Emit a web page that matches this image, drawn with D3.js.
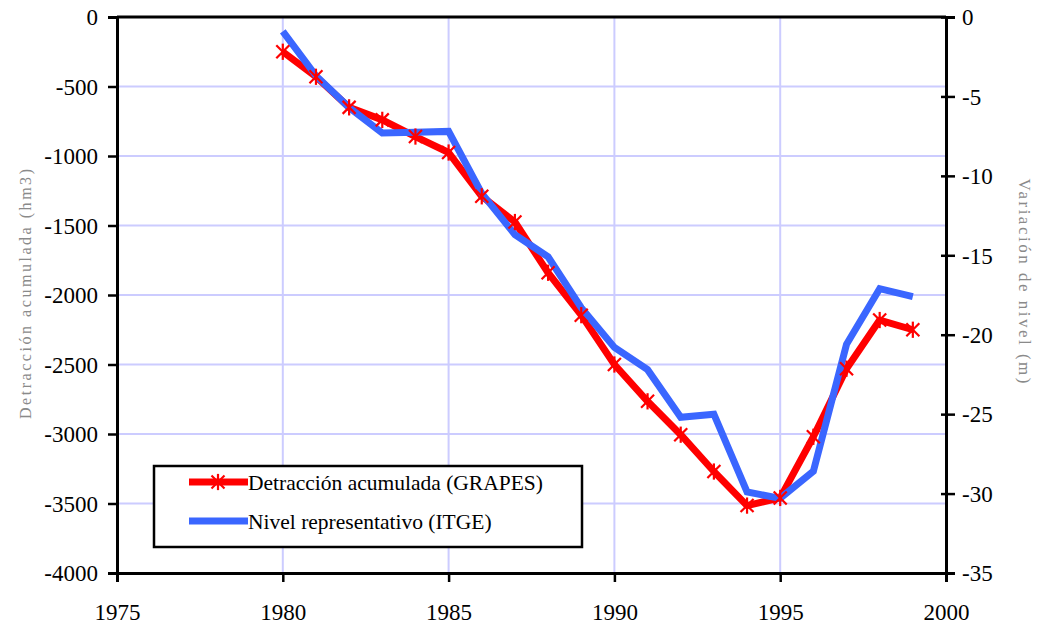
<!DOCTYPE html>
<html>
<head>
<meta charset="utf-8">
<script src="https://cdn.jsdelivr.net/npm/d3@7"></script>
<style>
  body { margin: 0; background: #fff; }
  svg { display: block; }
</style>
</head>
<body>
<script>
// years and the two series
var years = [1980, 1981, 1982, 1983, 1984, 1985, 1986, 1987, 1988, 1989,
             1990, 1991, 1992, 1993, 1994, 1995, 1996, 1997, 1998, 1999];
// detraccion acumulada (hm3) - left axis
var detraccion = [-250, -430, -650, -740, -860, -975, -1290, -1475, -1840, -2145,
                  -2500, -2765, -3005, -3270, -3515, -3460, -3020, -2530, -2180, -2250];
// nivel representativo (m) - right axis
var nivel = [-0.9, -3.7, -5.7, -7.3, -7.25, -7.2, -11.1, -13.7, -15.1, -18.3,
             -20.8, -22.2, -25.2, -25.0, -29.9, -30.3, -28.6, -20.6, -17.1, -17.6];

var xTicks = [1975, 1980, 1985, 1990, 1995, 2000];
var yLeftTicks = [0, -500, -1000, -1500, -2000, -2500, -3000, -3500, -4000];
var yRightTicks = [0, -5, -10, -15, -20, -25, -30, -35];
var legendLabels = ["Detracción acumulada (GRAPES)", "Nivel representativo (ITGE)"];

var serif = "Liberation Serif, Times New Roman, serif";

var W = 1042, H = 628;
var margin = {top: 17, right: 96, bottom: 55, left: 117},
    width = W - margin.left - margin.right,
    height = H - margin.top - margin.bottom;

var svg = d3.select("body").append("svg")
    .attr("width", W)
    .attr("height", H)
    .attr("font-family", serif);

var g = svg.append("g")
    .attr("transform", "translate(" + margin.left + "," + margin.top + ")");

var x = d3.scaleLinear().domain([1975, 2000]).range([0, width]);
var yL = d3.scaleLinear().domain([-4000, 0]).range([height, 0]);
var yR = d3.scaleLinear().domain([-35, 0]).range([height, 0]);

// grid
g.append("g").selectAll("line")
    .data(yLeftTicks.filter(function(d) { return d > -4000 && d < 0; }))
    .enter().append("line")
    .attr("x1", 0).attr("x2", width)
    .attr("y1", function(d) { return yL(d); })
    .attr("y2", function(d) { return yL(d); })
    .attr("stroke", "#ccccff").attr("stroke-width", 2);
g.append("g").selectAll("line")
    .data(xTicks.filter(function(d) { return d > 1975 && d < 2000; }))
    .enter().append("line")
    .attr("y1", 0).attr("y2", height)
    .attr("x1", function(d) { return x(d); })
    .attr("x2", function(d) { return x(d); })
    .attr("stroke", "#ccccff").attr("stroke-width", 2);

// top border
g.append("line")
    .attr("x1", 0).attr("x2", width).attr("y1", 0).attr("y2", 0)
    .attr("stroke", "#000").attr("stroke-width", 3);

// axes (hyphen minus like the original)
var fmt = function(d) { return String(d); };
var axL = g.append("g")
    .call(d3.axisLeft(yL).tickValues(yLeftTicks).tickSize(9).tickPadding(10).tickFormat(fmt));
var axB = g.append("g")
    .attr("transform", "translate(0," + height + ")")
    .call(d3.axisBottom(x).tickValues(xTicks).tickSize(9).tickPadding(22).tickFormat(fmt));
var axR = g.append("g")
    .attr("transform", "translate(" + width + ",0)")
    .call(d3.axisRight(yR).tickValues(yRightTicks).tickSize(9).tickPadding(7).tickFormat(fmt));
axR.selectAll(".tick line").attr("x1", -5);

[axL, axB, axR].forEach(function(a) {
    a.attr("font-family", serif).attr("font-size", 23);
    a.select(".domain").attr("stroke", "#000").attr("stroke-width", 3);
    a.selectAll(".tick line").attr("stroke", "#000").attr("stroke-width", 2.5);
    a.selectAll(".tick text").attr("fill", "#000");
});
axL.selectAll(".tick text").attr("dy", "0.34em");
axR.selectAll(".tick text").attr("dy", "0.34em");

// lines
var redLine = d3.line()
    .x(function(d, i) { return x(years[i]); })
    .y(function(d) { return yL(d); });
var blueLine = d3.line()
    .x(function(d, i) { return x(years[i]); })
    .y(function(d) { return yR(d); });

g.append("path")
    .datum(detraccion)
    .attr("fill", "none")
    .attr("stroke", "#ff0000")
    .attr("stroke-width", 7)
    .attr("stroke-linejoin", "round")
    .attr("d", redLine);

g.append("path")
    .datum(nivel)
    .attr("fill", "none")
    .attr("stroke", "#3a66ff")
    .attr("stroke-width", 7)
    .attr("d", blueLine);

// asterisk markers
function asterisk(sel, s) {
    sel.append("line").attr("x1", -s).attr("x2", s).attr("y1", -s).attr("y2", s);
    sel.append("line").attr("x1", -s).attr("x2", s).attr("y1", s).attr("y2", -s);
    sel.append("line").attr("x1", 0).attr("x2", 0).attr("y1", -s * 1.25).attr("y2", s * 1.25);
}
var marks = g.append("g").selectAll("g")
    .data(detraccion)
    .enter().append("g")
    .attr("transform", function(d, i) { return "translate(" + x(years[i]) + "," + yL(d) + ")"; })
    .attr("stroke", "#ff0000")
    .attr("stroke-width", 2.2);
marks.each(function() { asterisk(d3.select(this), 6.5); });

// legend
var lg = svg.append("g").attr("transform", "translate(154,466)");
lg.append("rect")
    .attr("width", 428).attr("height", 81)
    .attr("fill", "#fff").attr("stroke", "#000").attr("stroke-width", 2.5);
lg.append("line")
    .attr("x1", 35).attr("x2", 94).attr("y1", 16).attr("y2", 16)
    .attr("stroke", "#ff0000").attr("stroke-width", 7);
var lm = lg.append("g").attr("transform", "translate(64,16)")
    .attr("stroke", "#ff0000").attr("stroke-width", 2.2);
asterisk(lm, 6.5);
lg.append("line")
    .attr("x1", 35).attr("x2", 94).attr("y1", 55).attr("y2", 55)
    .attr("stroke", "#3a66ff").attr("stroke-width", 7);
lg.selectAll("text")
    .data(legendLabels)
    .enter().append("text")
    .attr("x", 94)
    .attr("y", function(d, i) { return 24 + i * 39; })
    .attr("font-size", 21.5)
    .attr("fill", "#000")
    .text(function(d) { return d; });

// axis titles
svg.append("text")
    .attr("transform", "translate(31,294) rotate(-90)")
    .attr("text-anchor", "middle")
    .attr("font-size", 16)
    .attr("fill", "#8a8a8a")
    .attr("textLength", 250)
    .text("Detracción acumulada (hm3)");
svg.append("text")
    .attr("transform", "translate(1019,281) rotate(90)")
    .attr("text-anchor", "middle")
    .attr("font-size", 17)
    .attr("fill", "#8a8a8a")
    .attr("textLength", 205)
    .text("Variación de nivel (m)");
</script>
</body>
</html>
